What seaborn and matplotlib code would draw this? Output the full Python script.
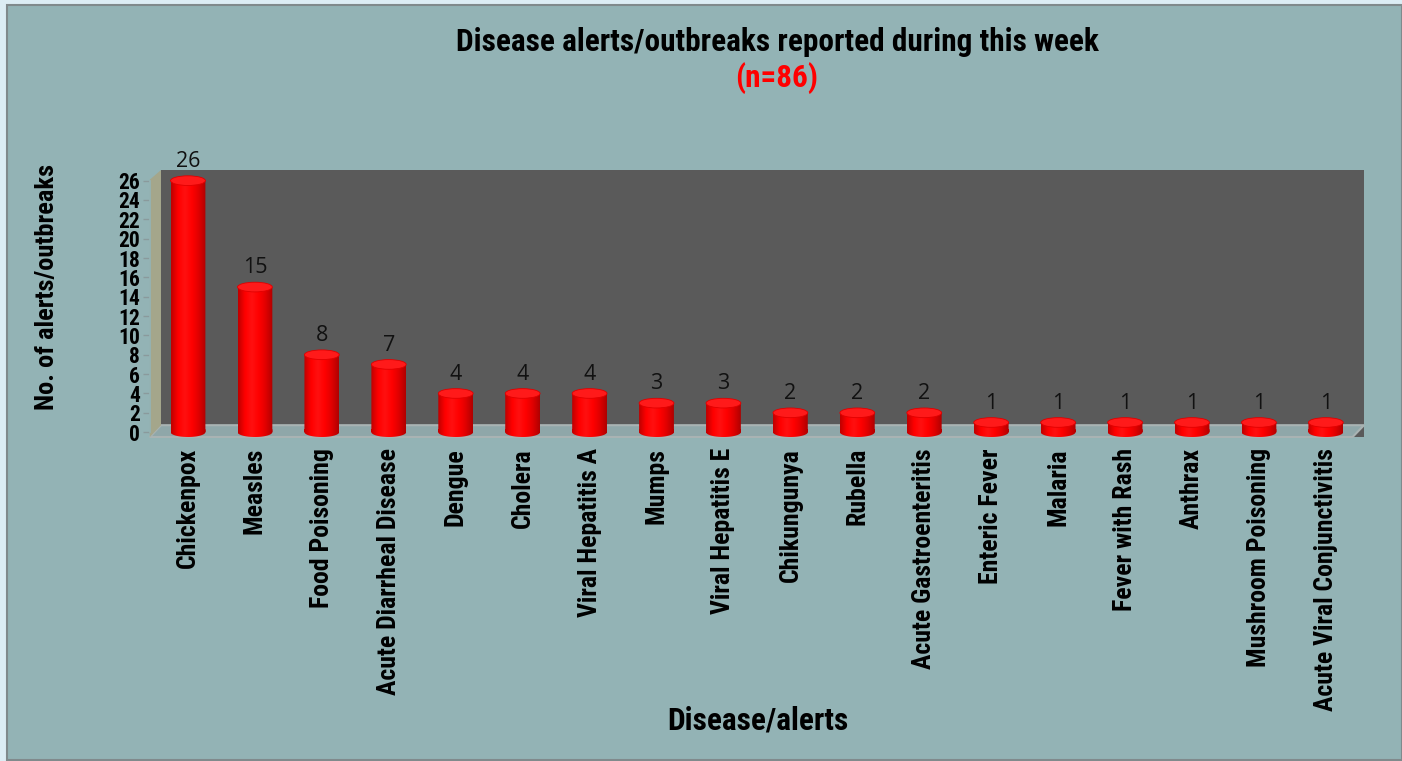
import numpy as np
import pandas as pd
import seaborn as sns
import matplotlib
matplotlib.use("Agg")
from matplotlib import pyplot as plt
from matplotlib import font_manager
from matplotlib.patches import Ellipse, Rectangle, Polygon, PathPatch
from matplotlib.path import Path
from matplotlib.colors import LinearSegmentedColormap

diseases = ["Chickenpox", "Measles", "Food Poisoning", "Acute Diarrheal Disease",
            "Dengue", "Cholera", "Viral Hepatitis A", "Mumps", "Viral Hepatitis E",
            "Chikungunya", "Rubella", "Acute Gastroenteritis", "Enteric Fever",
            "Malaria", "Fever with Rash", "Anthrax", "Mushroom Poisoning",
            "Acute Viral Conjunctivitis"]
counts = [26, 15, 8, 7, 4, 4, 4, 3, 3, 2, 2, 2, 1, 1, 1, 1, 1, 1]
yticks = list(range(0, 27, 2))

df = pd.DataFrame({"disease": diseases, "count": counts})

sns.set_theme(style="white")
names = {f.name for f in font_manager.fontManager.ttflist}
narrow_font = next((n for n in ["Liberation Sans Narrow", "Roboto Condensed",
                                "Open Sans Condensed", "Liberation Sans"] if n in names),
                   "DejaVu Sans")
plt.rcParams["font.family"] = [narrow_font, "DejaVu Sans"]
plt.rcParams["text.color"] = "black"
plt.rcParams["xtick.color"] = "black"
plt.rcParams["ytick.color"] = "black"

teal = "#93b3b5"
fig = plt.figure(figsize=(14.02, 7.61), dpi=100, facecolor="#dcedf4")
W, H = 1402, 761
fig.patches.append(Rectangle((7 / W, 1 / H), 1 - 7 / W, 1 - 6 / H, transform=fig.transFigure,
                             facecolor=teal, edgecolor="#808a8c", linewidth=1.5, zorder=-5))

ax = fig.add_axes([161 / W, (H - 437) / H, (1364 - 161) / W, (437 - 170) / H])
ax.set_zorder(1)
ax.set_facecolor("#5a5a5a")

bw = 0.52
sns.barplot(data=df, x="disease", y="count", color="#ff0000", width=bw,
            saturation=1, ax=ax, zorder=3)

# floor and side wall
ax.add_patch(Polygon([(-0.403, 0.72), (17.57, 0.72), (17.4, -0.5), (-0.57, -0.5)],
                     closed=True, facecolor="#8fa7a9", edgecolor="#a9b3b3",
                     linewidth=1.5, clip_on=False, zorder=1))
ax.add_patch(Polygon([(-0.57, 26.1), (-0.403, 27.1), (-0.403, 0.72), (-0.57, -0.5)],
                     closed=True, facecolor="#a4a68b", edgecolor="none",
                     clip_on=False, zorder=1))

cmap = LinearSegmentedColormap.from_list(
    "cyl", ["#c00000", "#ff0000", "#ff1010", "#ff0000", "#e00000", "#b00000"])
grad = np.linspace(0, 1, 64).reshape(1, -1)
eh = 1.0
for i, bar in enumerate(ax.patches[:len(counts)]):
    x0 = bar.get_x()
    w = bar.get_width()
    v = bar.get_height()
    bar.set_visible(False)
    # cylinder body: rectangle plus bottom half ellipse
    rect = Path([(x0, 0), (x0 + w, 0), (x0 + w, v), (x0, v), (x0, 0)],
                [Path.MOVETO, Path.LINETO, Path.LINETO, Path.LINETO, Path.CLOSEPOLY])
    t = np.linspace(np.pi, 2 * np.pi, 40)
    bx = x0 + w / 2 + w / 2 * np.cos(t)
    by = eh / 2 * np.sin(t)
    bottom = Path(np.column_stack([np.r_[bx, x0 + w, x0], np.r_[by, 0.3, 0.3]]))
    body = PathPatch(Path.make_compound_path(rect, bottom), transform=ax.transData,
                     facecolor="none", edgecolor="none")
    ax.add_patch(body)
    im = ax.imshow(grad, cmap=cmap, aspect="auto", extent=(x0, x0 + w, -eh, v + 0.1),
                   zorder=3, interpolation="bilinear")
    im.set_clip_path(body)
    ax.add_patch(Ellipse((x0 + w / 2, v), w, eh, facecolor="#ff1a1a",
                         edgecolor="#e00000", linewidth=0.6, zorder=4, clip_on=False))
    ax.text(x0 + w / 2, v + 0.9, str(counts[i]), ha="center", va="bottom",
            fontsize=15.5, family=["Open Sans", "DejaVu Sans"], color="#111111", zorder=5)

ax.set_xlim(-0.403, 17.57)
ax.set_ylim(-0.5, 27.1)

for s in ["top", "right", "bottom"]:
    ax.spines[s].set_visible(False)
ax.spines["left"].set_position(("data", -0.57))
ax.spines["left"].set_bounds(0, 26)
ax.spines["left"].set_color(teal)
ax.set_yticks(yticks)
ax.set_yticklabels([str(v) for v in yticks], fontsize=15.5, fontweight="bold")
ax.tick_params(axis="y", length=5, width=1, color="#8a9a9c", pad=2, left=True)
ax.tick_params(axis="x", length=0, pad=8)
ax.set_xticks(range(len(diseases)))
ax.set_xticklabels(diseases, rotation=90, fontsize=18.5, fontweight="bold", va="top")
ax.set_xlabel("")
ax.set_ylabel("")

fig.text(47 / W, 1 - 287 / H, "No. of alerts/outbreaks", rotation=90, ha="center",
         va="center", fontsize=19, fontweight="bold")
fig.text(758 / W, 1 - 720 / H, "Disease/alerts", ha="center", va="center",
         fontsize=22.5, fontweight="bold")
fig.text(777 / W, 1 - 42 / H, "Disease alerts/outbreaks reported during this week",
         ha="center", va="center", fontsize=22.5, fontweight="bold")
fig.text(777 / W, 1 - 78 / H, "(n=86)", ha="center", va="center", fontsize=22.5,
         fontweight="bold", color="#ff0000")

fig.savefig("out.png", dpi=100, facecolor=fig.get_facecolor())
